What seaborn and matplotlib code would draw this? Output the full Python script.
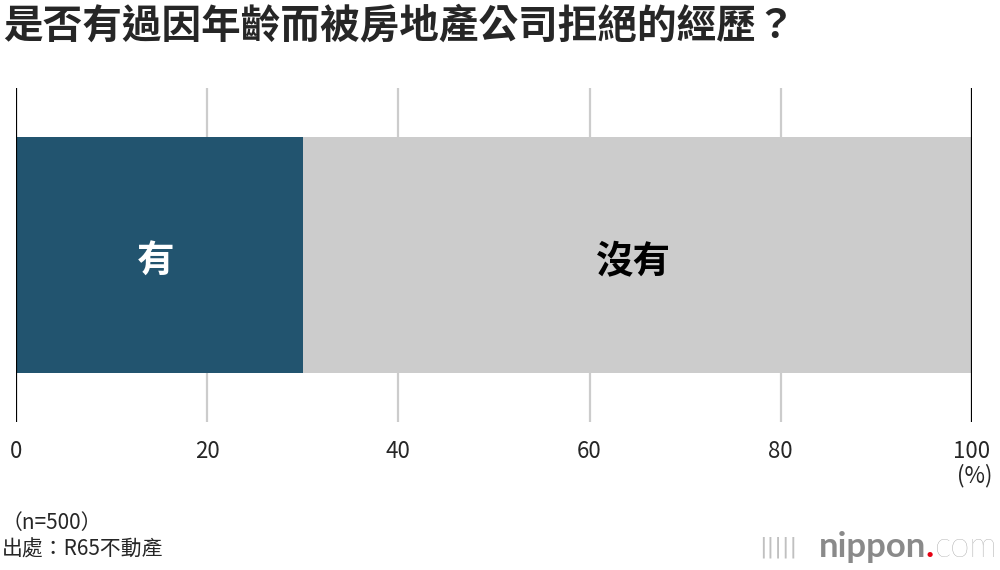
import numpy as np
import pandas as pd
import seaborn as sns
import matplotlib.pyplot as plt

# ---------------- data ----------------
categories = ['有', '沒有']
values = [30, 70]
bar_colors = ['#22546f', '#cccccc']
label_colors = ['white', 'black']
ticks = [0, 20, 40, 60, 80, 100]

title = '是否有過因年齡而被房地產公司拒絕的經歷？'
note = '（n=500）'
source = '出處：R65不動產'

# ---------------- style ----------------
sns.set_style('white')
plt.rcParams['font.family'] = ['Noto Sans CJK TC', 'DejaVu Sans']

fig = plt.figure(figsize=(10, 5.7), dpi=100)
ax = fig.add_axes([0.016, 0.2596, 0.956, 0.586])

# stacked bar: draw cumulative totals from the back
cum = np.cumsum(values)
df = pd.DataFrame({'row': [''] * len(values), 'cum': cum, 'cat': categories})
for i in range(len(values) - 1, -1, -1):
    sns.barplot(data=df.iloc[[i]], x='cum', y='row', color=bar_colors[i],
                orient='h', width=0.707, ax=ax, saturation=1, zorder=3,
                linewidth=0, edgecolor='none')

starts = cum - np.array(values)
for s, v, c, lc in zip(starts, values, categories, label_colors):
    ax.text(s + v / 2 - 0.4, 0.02, c, ha='center', va='center', fontsize=27,
            fontweight='bold', color=lc, zorder=4)

ax.set_xlim(0, 100)
ax.set_ylim(0.5, -0.5)
for t in ticks:
    if t in (0, 100):
        ax.axvline(t, color='black', lw=1.6, zorder=5)
    else:
        ax.axvline(t, color='#cccccc', lw=1.6, zorder=1)
for sp in ax.spines.values():
    sp.set_visible(False)
ax.set_xticks(ticks)
ax.set_xticklabels([str(t) for t in ticks], fontsize=16)
ax.tick_params(axis='x', length=0, pad=13)
ax.set_yticks([])
ax.set_xlabel('')
ax.set_ylabel('')

fig.text(0.975, 0.165, '(%)', ha='center', va='center', fontsize=16)
fig.text(0.003, 0.955, title, ha='left', va='center', fontsize=28.5,
         fontweight='bold')
fig.text(0.002, 0.083, note, ha='left', va='center', fontsize=15)
fig.text(0.002, 0.035, source, ha='left', va='center', fontsize=15)

# logo
fig.text(0.998, 0.04, 'com', ha='right', va='center', fontsize=25,
         color='#9a9a9a', family='Lato', fontweight='light')
fig.text(0.934, 0.04, '.', ha='right', va='center', fontsize=25,
         color='#e60012', family='Lato', fontweight='bold')
fig.text(0.926, 0.04, 'nippon', ha='right', va='center', fontsize=25,
         color='#8a8a8a', family='Lato', fontweight='bold')
fig.text(0.797, 0.04, '|||||', ha='right', va='center', fontsize=16,
         color='#c0c0c0', family='DejaVu Sans')

fig.savefig('out.png', dpi=100)
